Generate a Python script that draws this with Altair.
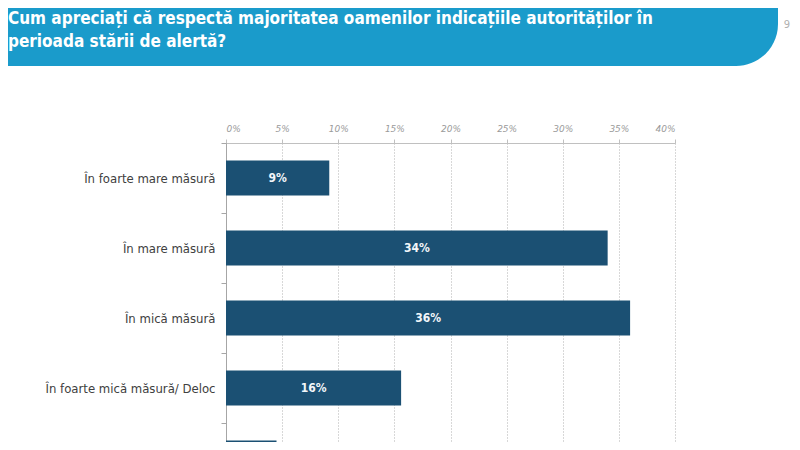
import altair as alt
import pandas as pd

categories = [
    "În foarte mare măsură",
    "În mare măsură",
    "În mică măsură",
    "În foarte mică măsură/ Deloc",
    "Nu știu/ Nu răspund",
]
values = [9.2, 34.0, 36.0, 15.6, 4.5]
value_labels = ["9%", "34%", "36%", "16%", "5%"]
tick_values = [0, 5, 10, 15, 20, 25, 30, 35, 40]
title_lines = [
    "Cum apreciați că respectă majoritatea oamenilor indicațiile autorităților în",
    "perioada stării de alertă?",
]
page_number = "9"

BAR = "#1b5073"
BANNER = "#1a9bcb"

df = pd.DataFrame({"cat": categories, "val": values, "lab": value_labels})
one = pd.DataFrame({"k": [0]})

y_enc = alt.Y(
    "cat:N",
    sort=categories,
    scale=alt.Scale(domain=categories, range=[0, 350], paddingInner=0, paddingOuter=0),
    axis=alt.Axis(
        title=None,
        tickBand="extent",
        domainColor="#a6a6a6",
        tickColor="#a6a6a6",
        tickSize=5,
        labelFont="DejaVu Sans Condensed",
        labelFontSize=13,
        labelColor="#404040",
        labelPadding=6,
        labelLimit=300,
        grid=False,
    ),
)

x_enc = alt.X(
    "val:Q",
    scale=alt.Scale(domain=[0, 40], nice=False),
    axis=alt.Axis(
        orient="top",
        title=None,
        values=tick_values,
        labelExpr="datum.value + '%'",
        grid=True,
        gridDash=[1, 2],
        gridColor="#b0b0b0",
        domainColor="#c0c0c0",
        tickColor="#c0c0c0",
        tickSize=4,
        labelFont="DejaVu Sans",
        labelFontStyle="italic",
        labelFontSize=9,
        labelColor="#9a9a9a",
        labelPadding=6,
    ),
)

bars = alt.Chart(df).mark_bar(size=35, color=BAR).encode(x=x_enc, y=y_enc)

bar_text = (
    alt.Chart(df)
    .transform_calculate(mid="datum.val / 2")
    .mark_text(color="#f2f6fa", fontWeight="bold", fontSize=12, font="DejaVu Sans Condensed", baseline="middle")
    .encode(x=alt.X("mid:Q"), y=alt.Y("cat:N", sort=categories), text="lab:N")
)

banner = (
    alt.Chart(one)
    .mark_rect(color=BANNER, cornerRadiusBottomRight=42, cornerRadiusTopRight=42)
    .encode(x=alt.value(-240), x2=alt.value(552), y=alt.value(-220), y2=alt.value(-77))
)

title = (
    alt.Chart(one)
    .mark_text(
        align="left",
        baseline="alphabetic",
        font="DejaVu Sans Condensed",
        fontWeight="bold",
        fontSize=17,
        color="white",
        lineHeight=23,
    )
    .encode(x=alt.value(-218), y=alt.value(-119), text=alt.value(title_lines))
)

pnum = (
    alt.Chart(one)
    .mark_text(align="right", baseline="middle", font="DejaVu Sans", fontSize=10, color="#b0b0b0")
    .encode(x=alt.value(564), y=alt.value(-118), text=alt.value(page_number))
)

chart = (
    alt.layer(banner, title, pnum, bars, bar_text)
    .properties(
        width=449,
        height=299,
        padding={"left": 218, "top": 135, "right": 117, "bottom": 0},
        autosize=alt.AutoSizeParams(type="none"),
        background="white",
    )
    .configure_view(stroke=None)
)

chart.save("out.html", embed_options={"renderer": "svg", "actions": False})
